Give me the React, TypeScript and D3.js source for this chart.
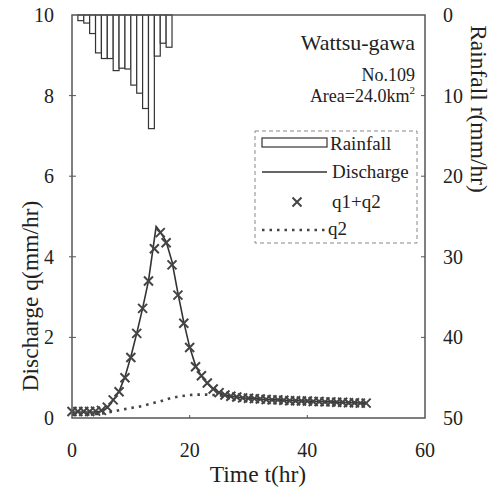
import React from 'react';
import * as d3 from 'd3';

// hourly rainfall r(mm/hr), bar i spans [i, i+1]
const rainHours = [1, 2, 3, 4, 5, 6, 7, 8, 9, 10, 11, 12, 13, 14, 15, 16];
const rainValues = [0.7, 1.0, 2.3, 4.7, 5.4, 5.4, 6.9, 6.6, 6.7, 8.7, 9.7, 11.6, 14.1, 5.1, 3.5, 4.0];

// observed discharge (solid line)
const obsTimes = [0, 1, 2, 3, 4, 5, 6, 7, 8, 9, 10, 11, 12, 13, 14.3, 15, 16, 17, 18, 19, 20, 21, 22, 23, 24, 25,
  26, 27, 28, 29, 30, 31, 32, 33, 34, 35, 36, 37, 38, 39, 40, 41, 42, 43, 44, 45, 46, 47, 48, 49, 50];
const obsQ = [0.15, 0.15, 0.15, 0.15, 0.15, 0.17, 0.25, 0.44, 0.66, 1.02, 1.52, 2.1, 2.72, 3.4, 4.75, 4.62, 4.38, 3.88,
  3.1, 2.38, 1.76, 1.3, 1.04, 0.86, 0.72, 0.63, 0.57, 0.54, 0.52, 0.5, 0.49, 0.48, 0.47, 0.46, 0.45, 0.45, 0.44,
  0.43, 0.43, 0.42, 0.42, 0.41, 0.41, 0.4, 0.4, 0.39, 0.39, 0.38, 0.38, 0.37, 0.37];

// computed q1+q2 (crosses), hourly 0..50
const calcQ = [0.16, 0.16, 0.16, 0.16, 0.17, 0.19, 0.27, 0.45, 0.65, 1.0, 1.5, 2.1, 2.72, 3.4, 4.2, 4.6, 4.35, 3.8,
  3.05, 2.35, 1.75, 1.27, 1.05, 0.87, 0.72, 0.63, 0.57, 0.54, 0.52, 0.5, 0.49, 0.48, 0.47, 0.46, 0.45, 0.45, 0.44,
  0.43, 0.43, 0.42, 0.42, 0.41, 0.41, 0.4, 0.4, 0.39, 0.39, 0.38, 0.38, 0.37, 0.37];

// q2 (dotted), hourly 0..50
const q2Values = [0.08, 0.08, 0.08, 0.09, 0.1, 0.11, 0.13, 0.16, 0.19, 0.22, 0.25, 0.27, 0.3, 0.34, 0.38, 0.41, 0.46,
  0.5, 0.53, 0.55, 0.57, 0.58, 0.58, 0.58, 0.57, 0.56, 0.55, 0.53, 0.52, 0.5, 0.49, 0.48, 0.47, 0.46, 0.45, 0.44,
  0.43, 0.43, 0.42, 0.41, 0.41, 0.4, 0.4, 0.39, 0.39, 0.38, 0.38, 0.37, 0.37, 0.36, 0.36];

const xTicks = [0, 20, 40, 60];
const qTicks = [0, 2, 4, 6, 8, 10];
const rTicks = [0, 10, 20, 30, 40, 50];

const App = () => {
  const width = 497;
  const height = 493;
  const font = 'Liberation Serif, DejaVu Serif, serif';
  const ink = '#333';

  const x = d3.scaleLinear().domain([0, 60]).range([72, 425]);
  const yq = d3.scaleLinear().domain([0, 10]).range([418, 15]);
  const yr = d3.scaleLinear().domain([0, 50]).range([15, 418]);

  const hours = d3.range(0, 51);
  const obsLine = d3.line<number>().x((_, i) => x(obsTimes[i])).y(d => yq(d));
  const q2Line = d3.line<number>().x((_, i) => x(hours[i])).y(d => yq(d));

  const cross = (cx: number, cy: number, s: number) =>
    `M${cx - s},${cy - s}L${cx + s},${cy + s}M${cx - s},${cy + s}L${cx + s},${cy - s}`;

  return (
    <div style={{ position: 'absolute', left: 0, top: 0 }}>
      <svg width={width} height={height} viewBox={`0 0 ${width} ${height}`} style={{ display: 'block', background: '#fff' }}>
        {/* rainfall bars hanging from the top */}
        {rainValues.map((r, i) => (
          <rect key={`rain-${i}`} x={x(rainHours[i])} y={yr(0)} width={x(rainHours[i] + 1) - x(rainHours[i])}
            height={yr(r) - yr(0)} fill="#fff" stroke={ink} strokeWidth={1.2} />
        ))}

        {/* q2 dotted */}
        <path d={q2Line(q2Values) || ''} fill="none" stroke="#444" strokeWidth={2.6} strokeDasharray="2.5,5" />

        {/* observed discharge */}
        <path d={obsLine(obsQ) || ''} fill="none" stroke={ink} strokeWidth={1.6} />

        {/* q1+q2 crosses */}
        {calcQ.map((q, i) => (
          <path key={`c-${i}`} d={cross(x(hours[i]), yq(q), 4.5)} stroke="#444" strokeWidth={2} fill="none" />
        ))}

        {/* frame */}
        <rect x={x(0)} y={yq(10)} width={x(60) - x(0)} height={yq(0) - yq(10)} fill="none" stroke="#555" strokeWidth={1.5} />

        {/* ticks */}
        {qTicks.slice(1, -1).map(t => (
          <line key={`ql-${t}`} x1={x(0) - 3} x2={x(0) + 4} y1={yq(t)} y2={yq(t)} stroke="#555" strokeWidth={1} />
        ))}
        {rTicks.slice(1, -1).map(t => (
          <line key={`rt-${t}`} x1={x(60) - 4} x2={x(60)} y1={yr(t)} y2={yr(t)} stroke="#555" strokeWidth={1} />
        ))}
        {xTicks.slice(1, -1).map(t => (
          <line key={`xt-${t}`} x1={x(t)} x2={x(t)} y1={yq(0)} y2={yq(0) - 3} stroke="#555" strokeWidth={1} />
        ))}

        {/* tick labels */}
        <g fontFamily={font} fontSize={20} fill="#222">
          {qTicks.map(t => (
            <text key={`qlab-${t}`} x={54} y={yq(t) + 7} textAnchor="end">{t}</text>
          ))}
          {rTicks.map(t => (
            <text key={`rlab-${t}`} x={443} y={yr(t) + 7} textAnchor="start">{t}</text>
          ))}
          {xTicks.map(t => (
            <text key={`xlab-${t}`} x={x(t)} y={457} textAnchor="middle">{t}</text>
          ))}
        </g>

        {/* axis titles */}
        <g fontFamily={font} fontSize={23.5} fill="#222">
          <text x={258} y={482} textAnchor="middle">Time t(hr)</text>
          <text transform="translate(38,296) rotate(-90)" textAnchor="middle">Discharge q(mm/hr)</text>
          <text transform="translate(471,109) rotate(90)" textAnchor="middle">Rainfall r(mm/hr)</text>
        </g>

        {/* basin info */}
        <g fontFamily={font} fill="#222" textAnchor="end">
          <text x={415} y={50} fontSize={22}>Wattsu-gawa</text>
          <text x={415} y={81} fontSize={18}>No.109</text>
          <text x={415} y={102} fontSize={18}>Area=24.0km<tspan fontSize={11} dy={-8}>2</tspan></text>
        </g>

        {/* legend */}
        <rect x={255} y={131} width={162} height={112} fill="#fff" stroke="#888" strokeWidth={1} strokeDasharray="4,3" />
        <g fontFamily={font} fontSize={19} fill="#222">
          <rect x={262} y={138} width={65} height={9} fill="#fff" stroke={ink} strokeWidth={1.2} />
          <text x={330} y={150}>Rainfall</text>
          <line x1={262} x2={327} y1={172} y2={172} stroke={ink} strokeWidth={1.6} />
          <text x={332} y={178}>Discharge</text>
          <path d={cross(297, 202, 4.5)} stroke="#444" strokeWidth={2} fill="none" />
          <text x={332} y={208}>q1+q2</text>
          <line x1={262} x2={327} y1={230} y2={230} stroke="#444" strokeWidth={2.6} strokeDasharray="2.5,5" />
          <text x={328} y={235}>q2</text>
        </g>
      </svg>
    </div>
  );
};

export default App;
